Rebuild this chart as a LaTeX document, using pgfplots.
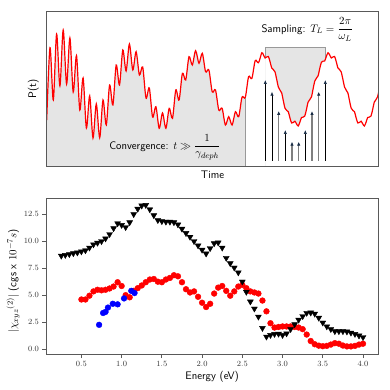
\documentclass[border=0pt]{standalone}
\usepackage{pgfplots}
\pgfplotsset{compat=1.18}
\usetikzlibrary{arrows.meta}
\definecolor{framec}{gray}{0.35}
\definecolor{tipc}{RGB}{25,45,70}
\definecolor{fillc}{gray}{0.9}
\definecolor{edgec}{gray}{0.6}
\begin{document}
\begin{tikzpicture}
\path (0bp,0bp) rectangle (390bp,390bp);
\begin{axis}[at={(46.7bp,223.3bp)}, anchor=south west, scale only axis,
  width=331.6bp, height=155.7bp,
  xmin=46.7, xmax=378.3, ymin=0, ymax=155.7,
  ticks=none, axis line style={framec, line width=0.8pt}, axis on top,
  xlabel={Time}, ylabel={P(t)},
  label style={font=\sffamily\fontsize{11}{13}\selectfont},
  xlabel style={at={(axis description cs:0.5,-0.053)}, anchor=center},
  ylabel style={at={(axis description cs:-0.040,0.5)}, anchor=center}]
% convergence region: area under the curve
\addplot[fill=fillc, draw=none, smooth] coordinates {
(46.7,46.7) (50.0,119.0) (53.3,66.7) (56.6,132.7) (59.9,80.7) (63.2,136.7) (66.6,82.7) (69.9,128.7) (73.2,74.7) (76.5,111.0)
(79.8,56.7) (83.1,88.7) (86.4,38.7) (89.7,70.7) (93.0,28.7) (96.3,62.7) (99.7,29.0) (103.0,66.7) (106.3,41.7) (109.6,81.7)
(112.9,61.7) (116.2,101.7) (119.5,81.7) (122.8,116.7) (126.1,95.7) (129.4,122.7) (132.8,96.7) (136.1,115.0) (139.4,91.7) (142.7,99.7)
(146.0,68.7) (149.3,78.7) (152.6,49.7) (155.9,60.0) (159.2,38.4) (162.5,53.7) (165.9,38.4) (169.2,58.4) (172.5,48.4) (175.8,76.7)
(179.1,66.7) (182.4,93.4) (185.7,86.7) (189.0,110.0) (192.3,101.7) (195.6,116.0) (199.0,103.4) (202.3,113.4) (205.6,95.0) (208.9,96.7)
(212.2,75.0) (215.5,76.7) (218.8,56.7) (222.1,58.4) (225.4,41.7) (228.7,50.0) (232.1,41.7) (235.4,55.0) (238.7,50.0) (242.0,69.4)
(245.3,69.4) (245.7,69.5)} \closedcycle;
% sampling window: grey box above the curve
\addplot[fill=fillc, draw=none] coordinates {(265.3,0) (265.3,119) (325.3,119) (325.3,0)} -- cycle;
\addplot[fill=white, draw=none, smooth] coordinates {
(265.3,108.8) (266.8,109.8) (268.4,110.2) (270.1,104.8) (271.7,98.7) (273.4,97.0) (275.0,94.8) (276.7,87.3)
(278.4,79.5) (280.0,76.6) (281.7,73.7) (283.3,66.0) (285.0,58.5) (286.6,56.4) (288.3,54.9) (289.9,48.9) (291.6,43.7) (293.2,44.2)
(294.9,45.5) (296.6,42.7) (298.2,40.7) (299.9,44.6) (301.5,49.2) (303.2,49.6) (304.8,50.7) (306.5,57.4) (308.1,64.6) (309.8,67.1)
(311.5,69.9) (313.1,77.8) (314.8,85.7) (316.4,88.4) (318.1,90.9) (319.7,98.0) (321.4,104.5) (323.0,105.5) (324.7,105.7) (325.3,107.5)} \closedcycle;
\addplot[edgec, line width=0.8pt] coordinates {(245.7,0) (245.7,69.5)};
\addplot[edgec, line width=0.8pt] coordinates {(265.3,108.8) (265.3,119) (325.3,119) (325.3,107.5)};
% sampling arrows
\addplot[black, line width=0.7pt, -{Latex[length=4bp,width=3.5bp,color=tipc]}] coordinates {(265.3,5.7) (265.3,86.7)};
\addplot[black, line width=0.7pt, -{Latex[length=4bp,width=3.5bp,color=tipc]}] coordinates {(272.0,5.7) (272.0,75)};
\addplot[black!50, line width=1.1pt, -{Latex[length=4bp,width=3.5bp,color=tipc]}] coordinates {(278.7,5.7) (278.7,55.7)};
\addplot[black, line width=0.7pt, -{Latex[length=4bp,width=3.5bp,color=tipc]}] coordinates {(285.3,5.7) (285.3,36.7)};
\addplot[black!50, line width=1.1pt, -{Latex[length=4bp,width=3.5bp,color=tipc]}] coordinates {(292.0,5.7) (292.0,25)};
\addplot[black!50, line width=1.1pt, -{Latex[length=4bp,width=3.5bp,color=tipc]}] coordinates {(298.7,5.7) (298.7,25)};
\addplot[black, line width=0.7pt, -{Latex[length=4bp,width=3.5bp,color=tipc]}] coordinates {(305.3,5.7) (305.3,36.7)};
\addplot[black!50, line width=1.1pt, -{Latex[length=4bp,width=3.5bp,color=tipc]}] coordinates {(312.0,5.7) (312.0,55.7)};
\addplot[black!50, line width=1.1pt, -{Latex[length=4bp,width=3.5bp,color=tipc]}] coordinates {(318.7,5.7) (318.7,75)};
\addplot[black, line width=0.7pt, -{Latex[length=4bp,width=3.5bp,color=tipc]}] coordinates {(325.3,5.7) (325.3,86.7)};
% P(t)
\addplot[draw=red, line width=1.2pt, smooth] coordinates {
(46.7,46.7) (50.0,119.0) (53.3,66.7) (56.6,132.7) (59.9,80.7) (63.2,136.7) (66.6,82.7) (69.9,128.7) (73.2,74.7) (76.5,111.0)
(79.8,56.7) (83.1,88.7) (86.4,38.7) (89.7,70.7) (93.0,28.7) (96.3,62.7) (99.7,29.0) (103.0,66.7) (106.3,41.7) (109.6,81.7)
(112.9,61.7) (116.2,101.7) (119.5,81.7) (122.8,116.7) (126.1,95.7) (129.4,122.7) (132.8,96.7) (136.1,115.0) (139.4,91.7) (142.7,99.7)
(146.0,68.7) (149.3,78.7) (152.6,49.7) (155.9,60.0) (159.2,38.4) (162.5,53.7) (165.9,38.4) (169.2,58.4) (172.5,48.4) (175.8,76.7)
(179.1,66.7) (182.4,93.4) (185.7,86.7) (189.0,110.0) (192.3,101.7) (195.6,116.0) (199.0,103.4) (202.3,113.4) (205.6,95.0) (208.9,96.7)
(212.2,75.0) (215.5,76.7) (218.8,56.7) (222.1,58.4) (225.4,41.7) (228.7,50.0) (232.1,41.7) (235.4,55.0) (238.7,50.0) (242.0,69.4)
(245.3,69.4) (248.6,90.0) (251.9,88.4) (255.2,106.0) (258.5,104.0)
(261.8,113.9) (263.5,111.7) (265.1,108.7) (266.8,109.8) (268.4,110.2) (270.1,104.8) (271.7,98.7) (273.4,97.0) (275.0,94.8) (276.7,87.3)
(278.4,79.5) (280.0,76.6) (281.7,73.7) (283.3,66.0) (285.0,58.5) (286.6,56.4) (288.3,54.9) (289.9,48.9) (291.6,43.7) (293.2,44.2)
(294.9,45.5) (296.6,42.7) (298.2,40.7) (299.9,44.6) (301.5,49.2) (303.2,49.6) (304.8,50.7) (306.5,57.4) (308.1,64.6) (309.8,67.1)
(311.5,69.9) (313.1,77.8) (314.8,85.7) (316.4,88.4) (318.1,90.9) (319.7,98.0) (321.4,104.5) (323.0,105.5) (324.7,105.7) (326.3,110.2)
(328.0,113.9) (329.7,111.7) (331.3,108.7) (333.0,109.8) (334.6,110.2) (336.3,104.8) (337.9,98.7) (339.6,97.0) (341.2,94.8) (342.9,87.3)
(344.6,79.5) (346.2,76.6) (347.9,73.7) (349.5,66.0) (351.2,58.5) (352.8,56.4) (354.5,54.9) (356.1,48.9) (357.8,43.7) (359.4,44.2)
(361.1,45.5) (362.8,42.7) (364.4,40.7) (366.1,44.6) (367.7,49.2) (369.4,49.6) (371.0,50.7) (372.7,57.4) (374.3,64.6) (376.0,67.1)
(377.6,69.9) (379.3,77.8)};
\node[font=\sffamily\fontsize{11}{13}\selectfont, anchor=center] at (axis cs:164.7,19.2) {Convergence: $t \gg \displaystyle\frac{1}{\gamma_{deph}}$};
\node[font=\sffamily\fontsize{11}{13}\selectfont, anchor=center] at (axis cs:307.2,137.2) {Sampling: $T_L = \displaystyle\frac{2\pi}{\omega_L}$};
\end{axis}

\begin{axis}[at={(46bp,35.5bp)}, anchor=south west, scale only axis,
  width=332.3bp, height=156.2bp,
  xmin=0.06, xmax=4.19, ymin=-0.5, ymax=13.98,
  xtick={0.5,1.0,1.5,2.0,2.5,3.0,3.5,4.0}, ytick={0,2.5,5,7.5,10,12.5},
  tick align=outside, xtick pos=left, ytick pos=left, major tick length=3.5bp,
  tick style={framec, line width=0.8pt}, axis line style={framec, line width=0.8pt},
  tick label style={font=\fontsize{8.5}{10}\selectfont, color=black!80},
  xticklabel style={/pgf/number format/.cd, fixed, fixed zerofill, precision=1},
  yticklabel style={/pgf/number format/.cd, fixed, fixed zerofill, precision=1},
  xlabel={Energy (eV)}, ylabel={$|\chi_{xyz}{}^{(2)}|$ (cgs x $10^{-7}s$)},
  label style={font=\sffamily\fontsize{11}{13}\selectfont},
  xlabel style={at={(axis description cs:0.5,-0.142)}, anchor=center},
  ylabel style={at={(axis description cs:-0.099,0.47)}, anchor=center}]
\addplot[only marks, mark=*, mark size=2.9bp, color=red] coordinates {
(0.50,4.6) (0.55,4.6) (0.60,4.95) (0.65,5.35) (0.70,5.5) (0.75,5.45) (0.80,5.5) (0.85,5.62) (0.90,5.8) (0.95,6.2)
(1.00,5.85) (1.05,5.0) (1.10,4.8) (1.15,5.4) (1.20,5.65) (1.25,5.9) (1.30,6.2) (1.35,6.45) (1.40,6.5) (1.45,6.25)
(1.50,6.2) (1.55,6.45) (1.60,6.6) (1.65,6.85) (1.70,6.75) (1.75,6.2) (1.80,5.55) (1.85,5.25) (1.90,5.35) (1.95,4.85)
(2.00,4.3) (2.05,3.9) (2.10,4.2) (2.15,5.15) (2.20,5.7) (2.25,5.85) (2.30,5.4) (2.35,4.95) (2.40,5.35) (2.45,5.8)
(2.50,5.95) (2.55,5.65) (2.60,5.35) (2.65,5.25) (2.70,5.15) (2.75,4.5) (2.80,3.5) (2.85,2.4) (2.90,2.0) (2.95,2.05)
(3.00,2.1) (3.05,2.1) (3.10,2.1) (3.15,2.05) (3.20,2.0) (3.25,1.85) (3.30,1.35) (3.35,0.75) (3.40,0.45) (3.45,0.32)
(3.50,0.27) (3.55,0.3) (3.60,0.42) (3.65,0.55) (3.70,0.5) (3.75,0.33) (3.80,0.25) (3.85,0.25) (3.90,0.3) (3.95,0.42)
(4.00,0.5)};
\addplot[only marks, mark=*, mark size=2.9bp, color=blue] coordinates {
(0.72,2.25) (0.77,3.35) (0.80,3.45) (0.83,3.85) (0.89,4.2) (0.95,4.15) (1.03,4.7) (1.12,5.4) (1.16,5.2)};
\addplot[only marks, mark=triangle*, mark size=3.4bp, mark options={rotate=180}, color=black] coordinates {
(0.25,8.65) (0.30,8.72) (0.35,8.80) (0.40,8.88) (0.45,8.95) (0.50,9.05) (0.55,9.15) (0.60,9.40) (0.65,9.70) (0.70,9.85)
(0.75,10.0) (0.80,10.25) (0.85,10.65) (0.90,11.2) (0.95,11.65) (1.00,11.5) (1.05,11.3) (1.10,11.75) (1.15,12.5) (1.20,13.0)
(1.25,13.3) (1.30,13.35) (1.35,12.95) (1.40,12.4) (1.45,11.95) (1.50,11.85) (1.55,11.8) (1.60,11.8) (1.65,11.75) (1.70,11.55)
(1.75,11.15) (1.80,10.75) (1.85,10.4) (1.90,10.0) (1.95,9.6) (2.00,9.2) (2.05,8.85) (2.10,9.35) (2.15,9.8) (2.20,9.87)
(2.25,9.4) (2.30,8.45) (2.35,7.95) (2.40,7.55) (2.45,7.1) (2.50,6.25) (2.55,5.3) (2.60,4.4) (2.65,3.75) (2.70,3.0)
(2.75,1.95) (2.80,1.15) (2.85,1.3) (2.90,1.4) (2.95,1.42) (3.00,1.3) (3.05,1.45) (3.10,1.85) (3.15,2.3) (3.20,2.72)
(3.25,3.05) (3.30,3.35) (3.35,3.38) (3.40,3.28) (3.45,2.9) (3.50,2.45) (3.55,2.1) (3.60,1.85) (3.65,1.65) (3.70,1.65)
(3.75,1.65) (3.80,1.62) (3.85,1.52) (3.90,1.4) (3.95,1.25) (4.00,1.1)};
\end{axis}
\end{tikzpicture}
\end{document}
